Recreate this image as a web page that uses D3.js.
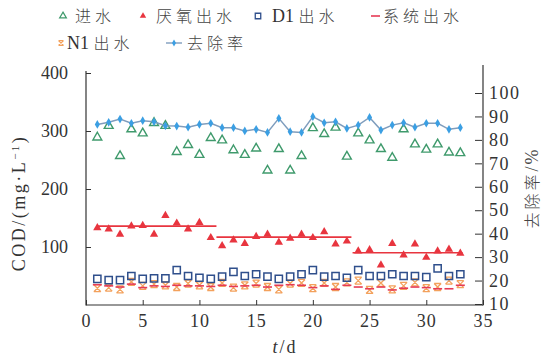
<!DOCTYPE html>
<html>
<head>
<meta charset="utf-8">
<script src="https://cdn.jsdelivr.net/npm/d3@7"></script>
<style>
  html, body { margin: 0; padding: 0; background: #fff; }
  svg { display: block; }
</style>
</head>
<body>
<svg id="chart" width="546" height="359"></svg>
<script>
// Operating days
const days = d3.range(1, 34);

// COD series, mg/L
const influent = [289,309,257,303,296,314,309,264,276,259,288,284,267,259,270,232,269,232,257,305,295,306,256,296,284,269,254,303,277,268,277,263,262];
const anaerobic = [133,131,122,136,137,122,154,141,131,142,116,102,112,106,118,122,108,115,122,116,126,105,110,93,95,69,106,86,105,82,93,96,89];
const d1Effluent = [45,43,43,50,45,46,46,60,50,47,45,49,57,50,53,49,45,49,53,60,49,50,47,60,50,50,53,50,50,48,63,50,53];
const n1Effluent = [29,30,27,40,33,36,34,31,37,34,31,38,30,34,37,31,27,37,38,29,38,31,39,42,26,38,27,33,39,29,31,42,36];
const systemEffluent = [35,33,31,36,30,33,32,34,33,33,32,34,32,33,34,31,34,35,34,30,33,27,34,31,28,31,26,29,31,30,28,28,34];

// COD removal rate, %
const removalRate = [86.6,87.5,88.9,87.1,88.2,87.7,86.0,85.9,85.4,86.6,87.1,85.2,85.2,83.8,84.5,83.2,89.2,83.5,83.2,89.9,87.3,87.7,84.9,86.3,89.6,84.2,86.3,87.3,85.4,87.1,87.1,84.5,85.2];

// Stage mean of anaerobic effluent
const stageStart = [1, 11.5, 23.5];
const stageEnd = [11.5, 23.4, 33.2];
const stageMean = [136, 117, 90];

// Axis ticks
const xTicks = [0, 5, 10, 15, 20, 25, 30, 35];
const yLeftTicks = [100, 200, 300, 400];
const yRightTicks = [10, 20, 30, 40, 50, 60, 70, 80, 90, 100];

const SERIF = '"Liberation Serif", "Times New Roman", "DejaVu Serif", serif';
const CJK = '"Noto Sans CJK SC", sans-serif';

const svg = d3.select("#chart");

const x = d3.scaleLinear().domain([0, 35]).range([86, 483]);
const yL = d3.scaleLinear().domain([0, 400]).range([305, 73]);
const yR = d3.scaleLinear().domain([10, 100]).range([304, 93]);

const axisColor = "#333";

// Axes
const gx = svg.append("g").attr("transform", "translate(0,305)")
  .call(d3.axisBottom(x).tickValues(xTicks).tickSizeInner(-5).tickSizeOuter(0).tickPadding(9));
const gl = svg.append("g").attr("transform", "translate(86,0)")
  .call(d3.axisLeft(yL).tickValues(yLeftTicks).tickSizeInner(-5).tickSizeOuter(0).tickPadding(18));
const gr = svg.append("g").attr("transform", "translate(483,0)")
  .call(d3.axisRight(yR).tickValues(yRightTicks).tickSizeInner(-7).tickSizeOuter(0).tickPadding(6));

[gx, gl, gr].forEach(g => {
  g.attr("font-family", null).attr("font-size", null);
  g.select(".domain").remove();
  g.selectAll(".tick line").attr("stroke", axisColor).attr("stroke-width", 1);
  g.selectAll(".tick text").attr("fill", "#333")
    .style("font-family", SERIF).style("font-size", "18px");
});
gx.selectAll(".tick text").attr("letter-spacing", "1px");
gr.selectAll(".tick text").attr("letter-spacing", "1.5px");
gr.selectAll(".tick line").attr("transform", "translate(-1,0)");

// Axis lines
svg.append("line").attr("x1", 86).attr("x2", 86).attr("y1", 71).attr("y2", 305.5)
  .attr("stroke", axisColor).attr("stroke-width", 1.2);
svg.append("line").attr("x1", 483).attr("x2", 483).attr("y1", 65).attr("y2", 305.5)
  .attr("stroke", axisColor).attr("stroke-width", 1.2);
svg.append("line").attr("x1", 86).attr("x2", 483).attr("y1", 305).attr("y2", 305)
  .attr("stroke", axisColor).attr("stroke-width", 1.2);

// Axis titles
svg.append("text")
  .attr("transform", "translate(25,203) rotate(-90)")
  .attr("text-anchor", "middle").attr("fill", "#333")
  .style("font-family", SERIF).style("font-size", "18px").attr("letter-spacing", "2.5px")
  .html('COD/(mg·L<tspan dy="-6" font-size="11px">−1</tspan><tspan dy="6">)</tspan>');

const rt = svg.append("text")
  .attr("transform", "translate(538,188) rotate(-90)")
  .attr("text-anchor", "middle").attr("fill", "#444");
rt.append("tspan").style("font-family", CJK).style("font-weight", 300).style("font-size", "16px")
  .attr("letter-spacing", "3px").text("去除率");
rt.append("tspan").style("font-family", SERIF).style("font-size", "18px")
  .attr("letter-spacing", "2px").text("/%");

const xt = svg.append("text").attr("x", 285).attr("y", 353).attr("text-anchor", "middle")
  .attr("fill", "#333").style("font-family", SERIF).style("font-size", "18px").attr("letter-spacing", "2px");
xt.append("tspan").attr("font-style", "italic").text("t");
xt.append("tspan").text("/d");

// Marker shapes
const triSym = d3.symbol().type(d3.symbolTriangle);
const sqSym = d3.symbol().type(d3.symbolSquare);
const diaSym = d3.symbol().type(d3.symbolDiamond);
const n1Path = "M-3.5,-3.5L3.5,-3.5M-3.5,3.5L3.5,3.5M-3.5,-3.5L3.5,3.5M3.5,-3.5L-3.5,3.5";

const green = "#3f9a6c", red = "#e8353f", navy = "#2f4f8c", orange = "#f3a15c",
      pink = "#e63a55", blue = "#3b9fe3", blueLine = "#7f9dbd";

// N1 effluent
svg.append("g").selectAll("path").data(days).join("path")
  .attr("d", n1Path)
  .attr("transform", (d, i) => `translate(${x(d)},${yL(n1Effluent[i])})`)
  .attr("fill", "none").attr("stroke", orange).attr("stroke-width", 1.3);

// System effluent
svg.append("g").selectAll("line").data(days).join("line")
  .attr("x1", d => x(d) - 4.5).attr("x2", d => x(d) + 4.5)
  .attr("y1", (d, i) => yL(systemEffluent[i])).attr("y2", (d, i) => yL(systemEffluent[i]))
  .attr("stroke", pink).attr("stroke-width", 1.6);

// D1 effluent
svg.append("g").selectAll("path").data(days).join("path")
  .attr("d", sqSym.size(52)())
  .attr("transform", (d, i) => `translate(${x(d)},${yL(d1Effluent[i])})`)
  .attr("fill", "none").attr("stroke", navy).attr("stroke-width", 1.5);

// Stage mean lines of anaerobic effluent
svg.append("g").selectAll("line").data(stageMean).join("line")
  .attr("x1", (d, i) => x(stageStart[i])).attr("x2", (d, i) => x(stageEnd[i]))
  .attr("y1", d => yL(d)).attr("y2", d => yL(d))
  .attr("stroke", red).attr("stroke-width", 1.6);

// Anaerobic effluent
svg.append("g").selectAll("path").data(days).join("path")
  .attr("d", triSym.size(30)())
  .attr("transform", (d, i) => `translate(${x(d)},${yL(anaerobic[i])})`)
  .attr("fill", red);

// Influent
svg.append("g").selectAll("path").data(days).join("path")
  .attr("d", triSym.size(34)())
  .attr("transform", (d, i) => `translate(${x(d)},${yL(influent[i])})`)
  .attr("fill", "none").attr("stroke", green).attr("stroke-width", 1.4);

// Removal rate
svg.append("path").datum(days)
  .attr("d", d3.line().x(d => x(d)).y((d, i) => yR(removalRate[i])))
  .attr("fill", "none").attr("stroke", blueLine).attr("stroke-width", 1.5);
svg.append("g").selectAll("path").data(days).join("path")
  .attr("d", diaSym.size(22)())
  .attr("transform", (d, i) => `translate(${x(d)},${yR(removalRate[i])})`)
  .attr("fill", blue);

// Legend
const lg = svg.append("g");
function legendText(xp, yp, parts) {
  const t = lg.append("text").attr("x", xp).attr("y", yp).attr("fill", "#444");
  parts.forEach(p => {
    const s = t.append("tspan").text(p[1]);
    if (p[0] === "n") {
      s.style("font-family", SERIF).style("font-size", "18px").attr("fill", "#333");
    } else {
      s.style("font-family", CJK).style("font-weight", 300).style("font-size", "16px")
        .attr("letter-spacing", "4px");
    }
  });
}
const r1 = 16, r2 = 43;
lg.append("path").attr("d", triSym.size(20)()).attr("transform", `translate(63,${r1})`)
  .attr("fill", "none").attr("stroke", green).attr("stroke-width", 1.2);
legendText(75, r1 + 6, [["c", "进水"]]);
lg.append("path").attr("d", triSym.size(18)()).attr("transform", `translate(143,${r1})`).attr("fill", red);
legendText(156, r1 + 6, [["c", "厌氧出水"]]);
lg.append("path").attr("d", sqSym.size(30)()).attr("transform", `translate(258,${r1})`)
  .attr("fill", "none").attr("stroke", navy).attr("stroke-width", 1.3);
legendText(272, r1 + 6, [["n", "D1 "], ["c", "出水"]]);
lg.append("line").attr("x1", 371).attr("x2", 380).attr("y1", r1).attr("y2", r1)
  .attr("stroke", pink).attr("stroke-width", 1.6);
legendText(383, r1 + 6, [["c", "系统出水"]]);
lg.append("path").attr("d", "M-2.5,-2.5L2.5,-2.5M-2.5,2.5L2.5,2.5M-2.5,-2.5L2.5,2.5M2.5,-2.5L-2.5,2.5")
  .attr("transform", `translate(61,${r2})`).attr("fill", "none").attr("stroke", orange).attr("stroke-width", 1.2);
legendText(67, r2 + 6, [["n", "N1 "], ["c", "出水"]]);
lg.append("line").attr("x1", 166).attr("x2", 182).attr("y1", r2).attr("y2", r2)
  .attr("stroke", blueLine).attr("stroke-width", 1.4);
lg.append("path").attr("d", diaSym.size(14)()).attr("transform", `translate(174,${r2})`).attr("fill", blue);
legendText(187, r2 + 6, [["c", "去除率"]]);
</script>
</body>
</html>
